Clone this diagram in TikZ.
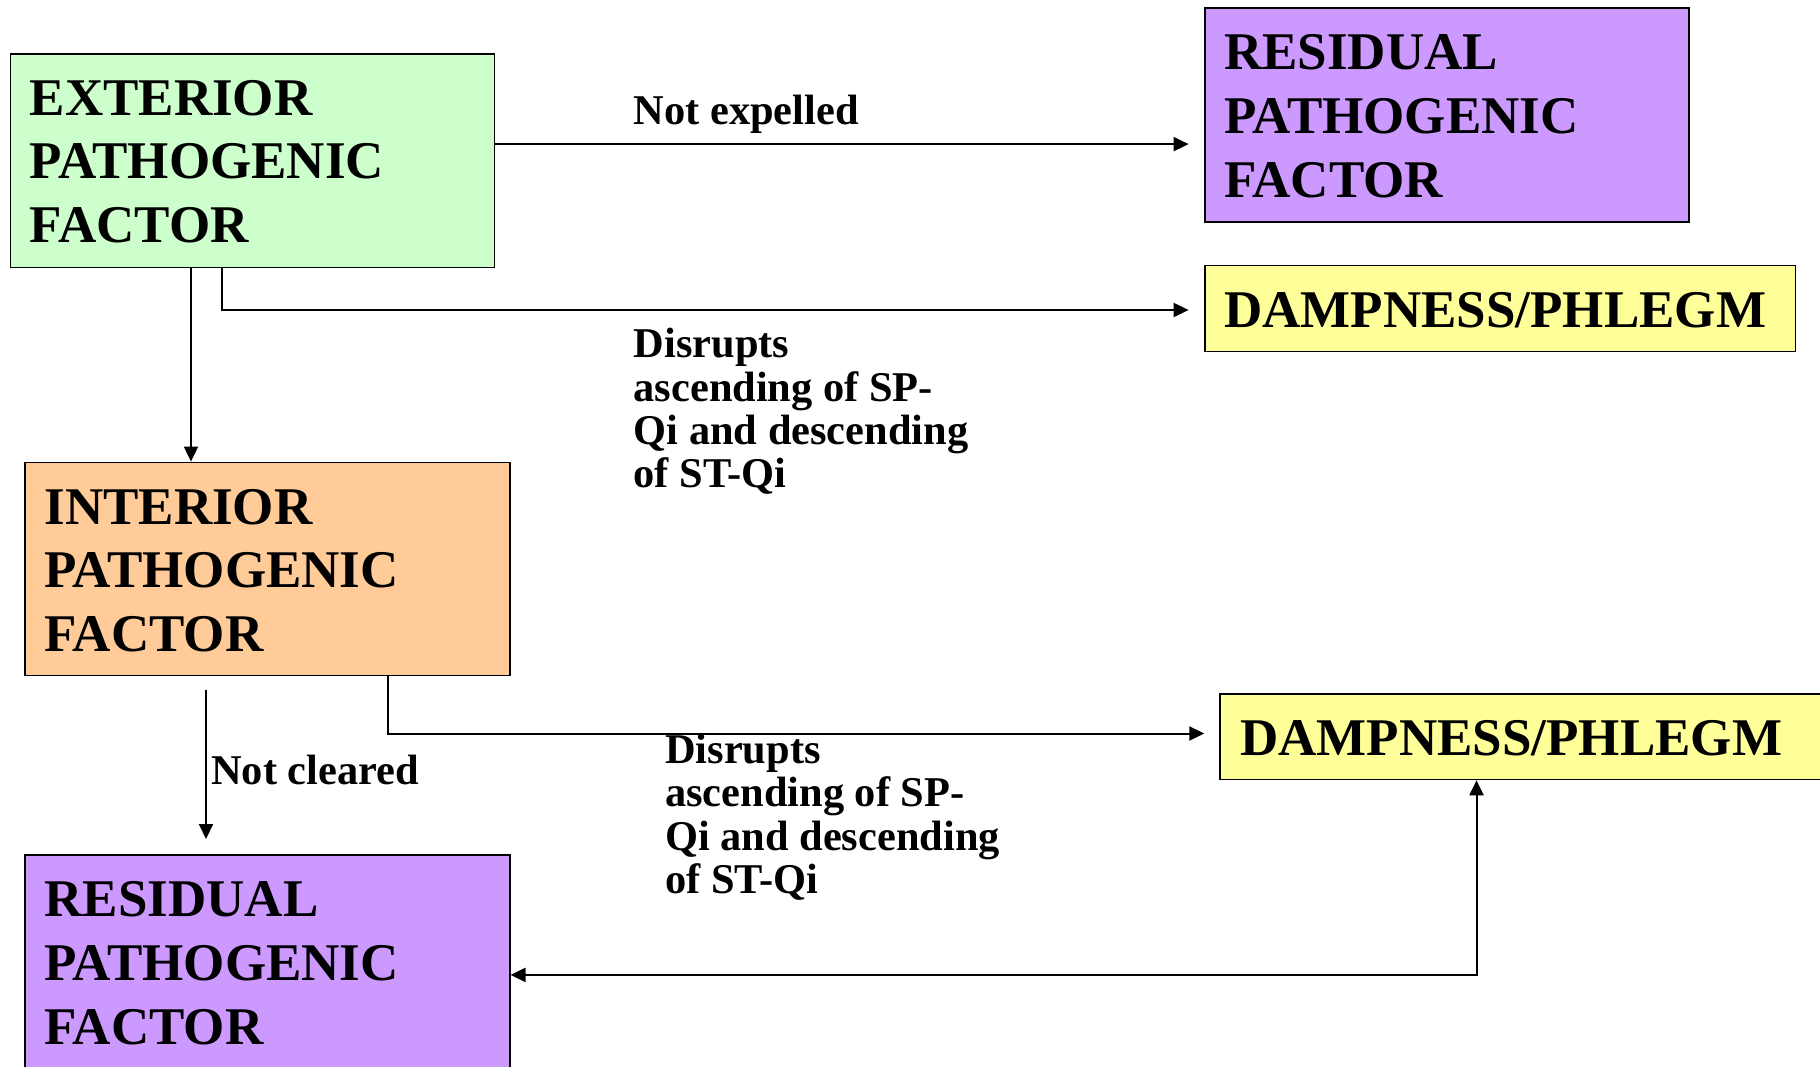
\documentclass[tikz,border=0pt]{standalone}
\usepackage{fontspec}
\setmainfont{Liberation Serif}
\usetikzlibrary{arrows.meta,calc}
\definecolor{extgreen}{HTML}{CCFFCC}
\definecolor{respurple}{HTML}{CC99FF}
\definecolor{dampyellow}{HTML}{FFFF99}
\definecolor{intorange}{HTML}{FFCC99}
\newcommand{\boxlines}[1]{\vtop{\baselineskip=63.8pt\relax #1}}
\newcommand{\lablines}[1]{\vtop{\baselineskip=43.4pt\relax #1}}
\tikzset{
  box/.style={draw=black, line width=1.5pt, inner sep=0pt, anchor=north west},
  boxlabel/.style={anchor=base west, inner sep=0pt, font=\fontsize{53}{63.8}\selectfont\bfseries},
  edgelabel/.style={anchor=base west, inner sep=0pt, font=\fontsize{42.4}{43.4}\selectfont\bfseries},
  arr/.style={line width=2pt, -{Triangle[length=15pt,width=14pt]}},
  dblarr/.style={line width=2pt, {Triangle[length=15pt,width=14pt]}-{Triangle[length=15pt,width=14pt]}},
}
\begin{document}
\begin{tikzpicture}[x=1pt,y=-1pt]
\useasboundingbox (0,0) rectangle (1820,1066);
\fill[white] (0,0) rectangle (1820,1066);

% boxes
\node[box, fill=extgreen, minimum width=484pt, minimum height=213.8pt] (ext) at (9.9,53) {};
\node[box, fill=respurple, minimum width=484pt, minimum height=214.2pt] (resA) at (1204.3,7.1) {};
\node[box, fill=dampyellow, minimum width=590.2pt, minimum height=86pt] (dampA) at (1204.3,264.8) {};
\node[box, fill=intorange, minimum width=484.6pt, minimum height=213.1pt] (int) at (24.4,461.6) {};
\node[box, fill=respurple, minimum width=484.6pt, minimum height=230pt] (resB) at (24.4,854.2) {};
\node[box, fill=dampyellow, minimum width=620pt, minimum height=85.4pt] (dampB) at (1219.3,693.4) {};

% box texts
\node[boxlabel] (extT) at (29.5,115) {\boxlines{\hbox{EXTERIOR}\hbox{PATHOGENIC}\hbox{FACTOR}}};
\node[boxlabel] (resAT) at (1224,69.5) {\boxlines{\hbox{RESIDUAL}\hbox{PATHOGENIC}\hbox{FACTOR}}};
\node[boxlabel] (dampAT) at (1224,327) {DAMPNESS/PHLEGM};
\node[boxlabel] (intT) at (44.3,524) {\boxlines{\hbox{INTERIOR}\hbox{PATHOGENIC}\hbox{FACTOR}}};
\node[boxlabel] (resBT) at (44.3,916.5) {\boxlines{\hbox{RESIDUAL}\hbox{PATHOGENIC}\hbox{FACTOR}}};
\node[boxlabel] (dampBT) at (1240,755.5) {DAMPNESS/PHLEGM};

% connector labels
\node[edgelabel] (notexp) at (633.5,124) {Not expelled};
\node[edgelabel] (disA) at (633.5,357.6) {\lablines{\hbox{Disrupts}\hbox{ascending of SP-}\hbox{Qi and descending}\hbox{of ST-Qi}}};
\node[edgelabel] (disB) at (665,763.5) {\lablines{\hbox{Disrupts}\hbox{ascending of SP-}\hbox{Qi and descending}\hbox{of ST-Qi}}};
\node[edgelabel] (notclr) at (211,784.5) {Not cleared};

% connectors
\draw[arr, shorten >=15.7pt] (ext.east |- 0,144.1) -- (resA.west |- 0,144.1);
\draw[arr, shorten >=15.7pt] (ext.south -| 221.7,0) -- (221.7,310) -- (dampA.west |- 0,310);
\draw[arr] (ext.south -| 191,0) -- (int.north -| 191,0);
\draw[arr, shorten >=15pt] (int.south -| 387.7,0) -- (387.7,733.5) -- (dampB.west |- 0,733.5);
\draw[arr, shorten <=14pt, shorten >=15.2pt] (int.south -| 206,0) -- (resB.north -| 206,0);
\draw[dblarr] (resB.east |- 0,974.9) -- (1476.5,974.9) -- (dampB.south -| 1476.5,0);
\end{tikzpicture}
\end{document}
